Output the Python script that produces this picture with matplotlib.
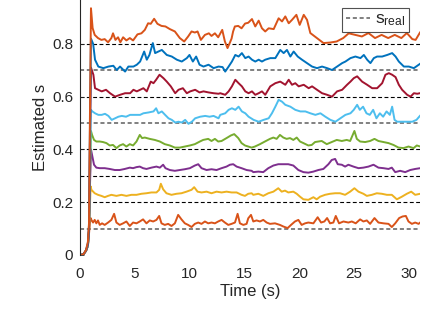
import matplotlib
matplotlib.use('Agg')
import matplotlib.pyplot as plt
from matplotlib.lines import Line2D

plt.rcParams['font.family'] = ['Liberation Sans', 'DejaVu Sans']

# ---------------- data ----------------
s_real = [0.1, 0.2, 0.3, 0.4, 0.5, 0.6, 0.7, 0.8]
x_ticks = [0, 5, 10, 15, 20, 25, 30]
y_ticks = [0, 0.2, 0.4, 0.6, 0.8]
y_tick_labels = ['0', '0.2', '0.4', '0.6', '0.8']

o1_t = [0, 0.3, 0.55, 0.72, 0.82, 0.9, 0.97, 1.04, 1.19, 1.34, 1.49, 1.64, 1.80, 2.01, 2.25, 2.56, 2.86, 3.11, 3.32, 3.62, 3.93, 4.23, 4.54, 4.84, 5.15, 5.45, 5.75, 6.06, 6.36, 6.67, 6.97, 7.22, 7.43, 7.73, 8.04, 8.34, 8.65, 8.95, 9.25, 9.56, 9.86, 10.17, 10.47, 10.78, 11.08, 11.39, 11.69, 11.99, 12.30, 12.60, 12.91, 13.21, 13.52, 13.82, 14.13, 14.37, 14.58, 14.89, 15.19, 15.34, 15.59, 15.80, 16.10, 16.41, 16.71, 17.02, 17.32, 17.78, 18.23, 18.54, 18.93, 19.24, 19.60, 19.91, 20.21, 20.52, 20.82, 21.28, 21.67, 21.98, 22.28, 22.53, 22.80, 23.10, 23.32, 23.62, 24.02, 24.47, 24.78, 25.14, 25.54, 25.84, 26.15, 26.45, 26.85, 27.21, 27.67, 28.13, 28.43, 28.74, 29.10, 29.41, 29.71, 29.95, 30.26, 30.56, 30.87, 31.02]
o1_v = [0, 0.002, 0.016, 0.035, 0.08, 0.12, 0.14, 0.133, 0.123, 0.133, 0.120, 0.131, 0.114, 0.120, 0.114, 0.123, 0.133, 0.156, 0.123, 0.114, 0.120, 0.127, 0.110, 0.123, 0.120, 0.127, 0.135, 0.120, 0.131, 0.127, 0.133, 0.148, 0.120, 0.114, 0.118, 0.110, 0.120, 0.152, 0.135, 0.120, 0.114, 0.106, 0.118, 0.123, 0.118, 0.127, 0.120, 0.123, 0.120, 0.127, 0.133, 0.123, 0.114, 0.118, 0.123, 0.156, 0.120, 0.114, 0.118, 0.139, 0.152, 0.127, 0.131, 0.127, 0.133, 0.123, 0.118, 0.120, 0.114, 0.108, 0.102, 0.114, 0.127, 0.133, 0.114, 0.120, 0.123, 0.120, 0.143, 0.123, 0.127, 0.140, 0.120, 0.123, 0.148, 0.120, 0.127, 0.123, 0.127, 0.120, 0.135, 0.127, 0.131, 0.118, 0.140, 0.123, 0.120, 0.118, 0.106, 0.120, 0.140, 0.146, 0.148, 0.127, 0.118, 0.123, 0.118, 0.123]

y2_t = [0, 0.3, 0.55, 0.72, 0.82, 0.9, 0.97, 1.04, 1.34, 1.64, 1.95, 2.25, 2.56, 2.86, 3.32, 3.78, 4.23, 4.69, 5.15, 5.60, 6.06, 6.51, 6.97, 7.22, 7.37, 7.58, 7.88, 8.34, 8.80, 9.25, 9.71, 10.17, 10.41, 10.72, 11.08, 11.54, 11.99, 12.45, 12.91, 13.36, 13.82, 14.28, 14.73, 15.04, 15.34, 15.65, 15.80, 16.26, 16.71, 17.17, 17.63, 18.08, 18.39, 18.69, 18.99, 19.45, 19.76, 20.06, 20.37, 20.82, 21.28, 21.58, 21.89, 22.34, 22.80, 23.26, 23.71, 24.17, 24.63, 25.02, 25.39, 25.84, 26.15, 26.61, 27.06, 27.52, 27.98, 28.43, 28.89, 29.35, 29.80, 30.20, 30.56, 31.02]
y2_v = [0, 0.002, 0.016, 0.035, 0.09, 0.18, 0.26, 0.247, 0.234, 0.228, 0.224, 0.219, 0.224, 0.228, 0.224, 0.228, 0.224, 0.228, 0.228, 0.232, 0.234, 0.237, 0.237, 0.247, 0.270, 0.249, 0.234, 0.228, 0.232, 0.234, 0.240, 0.247, 0.257, 0.240, 0.237, 0.240, 0.234, 0.240, 0.237, 0.240, 0.237, 0.237, 0.228, 0.224, 0.232, 0.234, 0.228, 0.232, 0.224, 0.234, 0.240, 0.253, 0.240, 0.244, 0.237, 0.240, 0.232, 0.221, 0.211, 0.209, 0.219, 0.211, 0.221, 0.228, 0.232, 0.234, 0.234, 0.228, 0.240, 0.253, 0.240, 0.232, 0.224, 0.228, 0.234, 0.232, 0.228, 0.228, 0.211, 0.221, 0.232, 0.240, 0.228, 0.232]

p3_t = [0, 0.3, 0.55, 0.72, 0.82, 0.9, 1.0, 1.1, 1.28, 1.49, 1.80, 2.25, 2.71, 3.17, 3.62, 4.08, 4.54, 4.84, 5.15, 5.45, 5.75, 6.06, 6.51, 6.97, 7.28, 7.58, 7.79, 8.19, 8.65, 9.10, 9.56, 10.02, 10.47, 10.78, 11.08, 11.54, 11.99, 12.45, 12.91, 13.36, 13.67, 13.97, 14.28, 14.73, 15.19, 15.65, 15.80, 16.26, 16.71, 17.17, 17.63, 18.08, 18.54, 18.99, 19.45, 19.91, 20.37, 20.82, 21.28, 21.73, 22.19, 22.65, 22.95, 23.26, 23.50, 23.87, 24.17, 24.47, 24.93, 25.39, 25.84, 26.30, 26.76, 27.21, 27.67, 28.13, 28.43, 28.74, 29.19, 29.65, 30.11, 30.56, 31.02]
p3_v = [0, 0.002, 0.016, 0.035, 0.09, 0.25, 0.40, 0.379, 0.342, 0.331, 0.329, 0.329, 0.326, 0.322, 0.322, 0.326, 0.331, 0.329, 0.333, 0.335, 0.329, 0.326, 0.331, 0.335, 0.331, 0.342, 0.329, 0.322, 0.319, 0.322, 0.325, 0.329, 0.339, 0.344, 0.329, 0.322, 0.325, 0.322, 0.329, 0.335, 0.342, 0.344, 0.335, 0.329, 0.322, 0.319, 0.314, 0.316, 0.314, 0.329, 0.339, 0.344, 0.344, 0.344, 0.339, 0.322, 0.314, 0.312, 0.316, 0.322, 0.326, 0.344, 0.360, 0.364, 0.344, 0.342, 0.335, 0.342, 0.335, 0.329, 0.331, 0.335, 0.342, 0.331, 0.329, 0.326, 0.331, 0.314, 0.319, 0.314, 0.322, 0.326, 0.329]

g4_t = [0, 0.3, 0.55, 0.72, 0.82, 0.9, 1.0, 1.1, 1.28, 1.49, 1.80, 2.10, 2.41, 2.71, 3.01, 3.32, 3.62, 3.93, 4.23, 4.54, 4.84, 5.15, 5.45, 5.66, 5.91, 6.36, 6.82, 7.28, 7.73, 8.19, 8.65, 9.10, 9.56, 10.02, 10.47, 10.93, 11.23, 11.69, 11.99, 12.30, 12.60, 12.91, 13.36, 13.76, 14.06, 14.43, 14.73, 15.04, 15.34, 15.65, 15.95, 16.41, 16.86, 17.32, 17.63, 17.93, 18.23, 18.54, 18.84, 19.15, 19.45, 19.76, 20.06, 20.37, 20.82, 21.13, 21.43, 21.73, 22.04, 22.50, 22.95, 23.41, 23.87, 24.32, 24.63, 25.02, 25.24, 25.54, 26.00, 26.45, 26.85, 27.21, 27.67, 28.13, 28.58, 29.04, 29.50, 29.95, 30.41, 30.71, 31.02]
g4_v = [0, 0.002, 0.016, 0.035, 0.09, 0.28, 0.47, 0.455, 0.436, 0.430, 0.430, 0.428, 0.424, 0.415, 0.417, 0.405, 0.415, 0.420, 0.411, 0.420, 0.415, 0.430, 0.455, 0.443, 0.445, 0.440, 0.436, 0.430, 0.420, 0.415, 0.407, 0.407, 0.411, 0.415, 0.420, 0.430, 0.436, 0.440, 0.432, 0.440, 0.430, 0.432, 0.443, 0.453, 0.458, 0.443, 0.424, 0.415, 0.411, 0.407, 0.411, 0.420, 0.430, 0.440, 0.445, 0.440, 0.455, 0.445, 0.440, 0.443, 0.436, 0.445, 0.430, 0.424, 0.415, 0.417, 0.428, 0.430, 0.432, 0.420, 0.428, 0.436, 0.432, 0.436, 0.432, 0.470, 0.440, 0.430, 0.428, 0.432, 0.440, 0.432, 0.428, 0.424, 0.417, 0.407, 0.405, 0.411, 0.405, 0.415, 0.411]

c5_t = [0, 0.3, 0.55, 0.72, 0.82, 0.9, 1.0, 1.1, 1.37, 1.67, 1.98, 2.28, 2.59, 2.89, 3.20, 3.50, 3.81, 4.20, 4.57, 5.02, 5.48, 5.78, 6.24, 6.70, 6.94, 7.15, 7.46, 7.76, 8.07, 8.37, 8.68, 8.98, 9.28, 9.59, 9.89, 10.20, 10.50, 10.96, 11.42, 11.81, 12.18, 12.63, 12.79, 13.24, 13.55, 13.85, 14.16, 14.46, 14.76, 15.07, 15.37, 15.83, 16.29, 16.74, 17.20, 17.50, 17.81, 18.11, 18.42, 18.72, 19.18, 19.63, 20.09, 20.55, 21.00, 21.46, 21.92, 22.37, 22.83, 23.29, 23.74, 24.20, 24.66, 24.96, 25.27, 25.51, 25.81, 26.12, 26.42, 26.73, 27.03, 27.34, 27.64, 27.95, 28.25, 28.46, 28.68, 28.92, 29.37, 29.83, 30.29, 30.68, 30.99]
c5_v = [0, 0.002, 0.016, 0.035, 0.09, 0.30, 0.55, 0.545, 0.537, 0.531, 0.531, 0.535, 0.527, 0.512, 0.518, 0.524, 0.527, 0.524, 0.531, 0.531, 0.531, 0.537, 0.540, 0.544, 0.556, 0.537, 0.544, 0.531, 0.518, 0.512, 0.502, 0.505, 0.502, 0.512, 0.497, 0.505, 0.518, 0.524, 0.527, 0.524, 0.527, 0.518, 0.531, 0.537, 0.550, 0.556, 0.550, 0.562, 0.544, 0.537, 0.524, 0.512, 0.505, 0.512, 0.518, 0.537, 0.562, 0.588, 0.581, 0.569, 0.562, 0.550, 0.544, 0.544, 0.537, 0.531, 0.537, 0.524, 0.512, 0.505, 0.518, 0.531, 0.537, 0.550, 0.569, 0.550, 0.562, 0.537, 0.531, 0.550, 0.518, 0.537, 0.524, 0.544, 0.531, 0.562, 0.512, 0.505, 0.505, 0.505, 0.505, 0.512, 0.527]

r6_t = [0, 0.3, 0.55, 0.72, 0.82, 0.9, 1.0, 1.22, 1.37, 1.67, 1.98, 2.37, 2.74, 3.20, 3.65, 4.11, 4.57, 4.87, 5.18, 5.48, 5.78, 6.09, 6.45, 6.70, 6.94, 7.25, 7.61, 7.91, 8.28, 8.68, 8.98, 9.38, 9.74, 10.05, 10.50, 10.90, 11.26, 11.72, 12.18, 12.63, 12.79, 13.24, 13.55, 13.85, 14.16, 14.46, 14.76, 15.07, 15.37, 15.68, 15.98, 16.29, 16.59, 16.89, 17.35, 17.81, 18.26, 18.72, 19.03, 19.33, 19.63, 19.94, 20.40, 20.85, 21.16, 21.61, 22.07, 22.53, 22.98, 23.44, 23.90, 24.35, 24.66, 24.96, 25.27, 25.72, 26.18, 26.64, 27.09, 27.55, 27.85, 28.16, 28.46, 28.77, 29.07, 29.37, 29.83, 30.14, 30.44, 30.75, 30.99]
r6_v = [0, 0.002, 0.017, 0.04, 0.10, 0.40, 0.71, 0.683, 0.632, 0.626, 0.620, 0.626, 0.613, 0.600, 0.607, 0.613, 0.613, 0.626, 0.620, 0.626, 0.632, 0.620, 0.657, 0.651, 0.664, 0.683, 0.670, 0.657, 0.639, 0.613, 0.626, 0.632, 0.613, 0.620, 0.626, 0.616, 0.620, 0.616, 0.613, 0.611, 0.613, 0.607, 0.620, 0.639, 0.664, 0.651, 0.639, 0.620, 0.613, 0.620, 0.607, 0.613, 0.620, 0.607, 0.639, 0.651, 0.657, 0.645, 0.664, 0.645, 0.651, 0.639, 0.645, 0.632, 0.639, 0.626, 0.613, 0.607, 0.600, 0.620, 0.626, 0.645, 0.657, 0.670, 0.677, 0.657, 0.645, 0.632, 0.632, 0.651, 0.683, 0.689, 0.683, 0.674, 0.645, 0.626, 0.607, 0.600, 0.613, 0.611, 0.613]

b7_t = [0, 0.3, 0.55, 0.72, 0.82, 0.9, 1.0, 1.2, 1.37, 1.67, 2.13, 2.59, 3.04, 3.35, 3.65, 4.11, 4.41, 4.87, 5.18, 5.48, 5.85, 6.09, 6.33, 6.64, 6.85, 7.15, 7.46, 7.91, 8.37, 8.83, 9.28, 9.74, 9.98, 10.29, 10.59, 10.90, 11.26, 11.72, 12.18, 12.63, 13.0, 13.24, 13.55, 13.85, 14.16, 14.46, 14.76, 15.07, 15.37, 15.68, 15.98, 16.29, 16.59, 16.89, 17.35, 17.81, 18.26, 18.57, 18.87, 19.18, 19.48, 19.85, 20.24, 20.70, 21.16, 21.61, 22.07, 22.53, 22.98, 23.44, 23.90, 24.20, 24.66, 25.11, 25.57, 25.88, 26.18, 26.48, 26.79, 27.09, 27.55, 28.01, 28.46, 28.77, 29.07, 29.53, 29.98, 30.44, 30.75, 30.99]
b7_v = [0, 0.002, 0.018, 0.045, 0.11, 0.45, 0.82, 0.80, 0.740, 0.714, 0.708, 0.714, 0.717, 0.701, 0.714, 0.695, 0.714, 0.714, 0.721, 0.733, 0.771, 0.740, 0.758, 0.803, 0.765, 0.771, 0.777, 0.758, 0.752, 0.740, 0.733, 0.746, 0.758, 0.733, 0.752, 0.721, 0.714, 0.721, 0.708, 0.714, 0.712, 0.695, 0.714, 0.733, 0.758, 0.752, 0.765, 0.746, 0.752, 0.740, 0.733, 0.740, 0.733, 0.740, 0.746, 0.746, 0.777, 0.765, 0.777, 0.752, 0.771, 0.752, 0.740, 0.727, 0.714, 0.708, 0.714, 0.708, 0.701, 0.714, 0.727, 0.733, 0.746, 0.752, 0.746, 0.758, 0.740, 0.727, 0.746, 0.752, 0.752, 0.758, 0.765, 0.752, 0.733, 0.714, 0.714, 0.708, 0.717, 0.724]

o8_t = [0, 0.3, 0.55, 0.72, 0.82, 0.9, 1.0, 1.15, 1.34, 1.64, 1.95, 2.25, 2.56, 2.86, 3.01, 3.23, 3.47, 3.68, 3.93, 4.23, 4.54, 4.84, 5.24, 5.60, 5.91, 6.21, 6.45, 6.76, 7.06, 7.43, 7.79, 8.19, 8.65, 9.10, 9.50, 9.86, 10.17, 10.47, 10.72, 11.02, 11.39, 11.75, 11.99, 12.30, 12.60, 12.97, 13.21, 13.45, 13.65, 13.82, 13.96, 14.12, 14.43, 14.73, 15.05, 15.34, 15.68, 15.98, 16.29, 16.59, 16.89, 17.20, 17.66, 18.11, 18.42, 18.72, 19.03, 19.33, 19.73, 20.03, 20.40, 20.70, 21.00, 21.60, 22.20, 22.80, 23.40, 24.00, 24.50, 25.10, 25.70, 26.30, 26.90, 27.50, 28.10, 28.70, 29.30, 29.80, 30.30, 30.60, 31.00]
o8_v = [0, 0.002, 0.019, 0.05, 0.12, 0.5, 0.935, 0.86, 0.834, 0.822, 0.815, 0.818, 0.806, 0.822, 0.840, 0.815, 0.825, 0.806, 0.825, 0.813, 0.822, 0.813, 0.836, 0.840, 0.853, 0.878, 0.876, 0.895, 0.876, 0.868, 0.866, 0.856, 0.847, 0.822, 0.809, 0.828, 0.847, 0.843, 0.847, 0.815, 0.834, 0.840, 0.830, 0.840, 0.825, 0.853, 0.809, 0.784, 0.803, 0.820, 0.847, 0.866, 0.868, 0.859, 0.877, 0.880, 0.894, 0.866, 0.888, 0.859, 0.847, 0.859, 0.856, 0.897, 0.885, 0.904, 0.878, 0.891, 0.910, 0.872, 0.910, 0.891, 0.841, 0.822, 0.803, 0.805, 0.809, 0.822, 0.840, 0.834, 0.828, 0.841, 0.822, 0.834, 0.822, 0.834, 0.822, 0.841, 0.818, 0.815, 0.843]

# ---------------- style ----------------
C_ORANGE = (0.850, 0.325, 0.098)
C_YELLOW = (0.929, 0.694, 0.125)
C_PURPLE = (0.494, 0.184, 0.556)
C_GREEN = (0.466, 0.674, 0.188)
C_LBLUE = (0.301, 0.745, 0.933)
C_DRED = (0.635, 0.078, 0.184)
C_BLUE = (0.000, 0.447, 0.741)
TXT = (0.15, 0.15, 0.15)
GRAY = (0.5, 0.5, 0.5)

series = [
    (o1_t, o1_v, C_ORANGE),
    (y2_t, y2_v, C_YELLOW),
    (p3_t, p3_v, C_PURPLE),
    (g4_t, g4_v, C_GREEN),
    (c5_t, c5_v, C_LBLUE),
    (r6_t, r6_v, C_DRED),
    (b7_t, b7_v, C_BLUE),
    (o8_t, o8_v, C_ORANGE),
]

fig = plt.figure(figsize=(4.3, 3.26), dpi=100)
ax = fig.add_axes([80 / 430, 71 / 326, 340 / 430, 256 / 326])
ax.set_xlim(0, 31)
ax.set_ylim(0, 0.97)

# reference (dashed) lines
gray_set = {0.1, 0.5, 0.7}
for s in s_real:
    if s in gray_set:
        ax.axhline(s, color=GRAY, lw=1.4, ls=(0, (2.1, 1.4)), zorder=1)
    else:
        ax.axhline(s, color='black', lw=0.8, ls=(0, (3.5, 2.2)), zorder=1)

for t, v, c in series:
    ax.plot(t, v, color=c, lw=1.4, zorder=2, solid_joinstyle='round')

# spines / ticks
for side in ['top', 'right', 'bottom']:
    ax.spines[side].set_visible(False)
ax.spines['left'].set_color(TXT)
ax.spines['left'].set_linewidth(0.8)

ax.set_yticks(y_ticks)
ax.set_yticklabels(y_tick_labels)
ax.tick_params(axis='y', direction='in', length=3, width=0.6, color=TXT,
               labelsize=11, labelcolor=TXT, pad=5)

ax.set_xticks(x_ticks)
ax.set_xticklabels([str(x) for x in x_ticks])
ax.tick_params(axis='x', which='major', length=0, labelsize=11,
               labelcolor=TXT, pad=9)
ax.set_xticks([10, 15, 20], minor=True)
ax.tick_params(axis='x', which='minor', direction='in', length=3.5,
               width=0.6, color=TXT, top=True, bottom=True)

ax.set_xlabel('Time (s)', fontsize=12, color=TXT, labelpad=2)
ax.set_ylabel('Estimated s', fontsize=12, color=TXT, labelpad=3)

# legend
handle = Line2D([], [], color=GRAY, lw=1.4, ls=(0, (2.1, 1.4)))
leg = ax.legend([handle], [r'$\mathregular{s_{real}}$'], loc='upper right',
                bbox_to_anchor=(0.9685, 0.965), borderaxespad=0,
                fontsize=12.5, handlelength=1.4, handletextpad=0.3,
                borderpad=0.2, frameon=True, fancybox=False)
leg.get_frame().set_edgecolor(TXT)
leg.get_frame().set_linewidth(0.8)
for txt in leg.get_texts():
    txt.set_color(TXT)

fig.savefig('out.png', dpi=100)
